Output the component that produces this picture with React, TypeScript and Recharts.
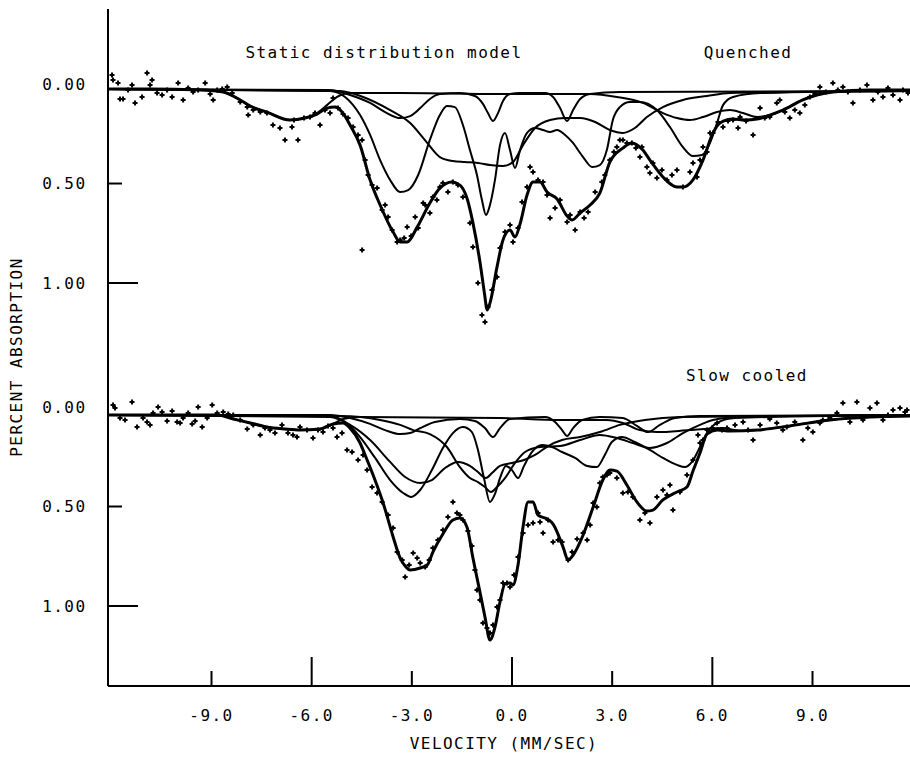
import { ComposedChart, Line, Scatter, XAxis, YAxis } from "recharts";

type Pt = [number, number];

const VELOCITY_TICKS = [-9, -6, -3, 0, 3, 6, 9];
const MAJOR_TICKS = [-6, 0, 6];
const ABS_TICKS = [0, 0.5, 1.0];
// the slow cooled spectrum is drawn below the quenched one, shifted by this much absorption
const PANEL_OFFSET = 1.623;

// ---- Quenched (upper spectrum) ----
const quenchedPoints: Pt[] = [
  [-11.98, -0.045], [-11.95, -0.02], [-11.8, -0.005], [-11.74, 0.075], [-11.65, 0.075], [-11.5, 0.03],
  [-11.38, 0.005], [-11.29, 0.095], [-11.08, 0.065], [-10.93, -0.055], [-10.84, 0.005], [-10.78, -0.02],
  [-10.63, 0.045], [-10.48, 0.055], [-10.33, 0.03], [-10.18, 0.065], [-10.0, -0.005], [-9.85, 0.08],
  [-9.7, 0.02], [-9.55, 0.04], [-9.4, 0.03], [-9.19, -0.005], [-9.04, 0.05], [-8.95, 0.08], [-8.83, 0.03],
  [-8.68, 0.025], [-8.53, 0.015], [-8.38, 0.045], [-8.14, 0.09], [-7.93, 0.116], [-7.9, 0.156], [-7.75, 0.131],
  [-7.54, 0.141], [-7.34, 0.146], [-7.16, 0.206], [-6.95, 0.221], [-6.8, 0.281], [-6.59, 0.216], [-6.53, 0.181],
  [-6.41, 0.281], [-6.23, 0.171], [-6.05, 0.166], [-5.9, 0.146], [-5.75, 0.206], [-5.6, 0.131], [-5.45, 0.146],
  [-5.36, 0.07], [-5.21, 0.121], [-5.06, 0.151], [-4.91, 0.171], [-4.76, 0.216], [-4.61, 0.256], [-4.49, 0.281],
  [-4.49, 0.834], [-4.4, 0.382], [-4.31, 0.457], [-4.19, 0.508], [-4.04, 0.523], [-3.89, 0.633], [-3.8, 0.608],
  [-3.71, 0.668], [-3.59, 0.734], [-3.44, 0.794], [-3.35, 0.784], [-3.23, 0.774], [-3.14, 0.719], [-3.02, 0.764],
  [-2.9, 0.668], [-2.81, 0.724], [-2.66, 0.598], [-2.6, 0.608], [-2.46, 0.648], [-2.37, 0.568], [-2.25, 0.583],
  [-2.16, 0.518], [-2.07, 0.497], [-1.92, 0.543], [-1.77, 0.492], [-1.62, 0.508], [-1.47, 0.568], [-1.26, 0.698],
  [-1.17, 0.819], [-1.02, 1.0], [-0.9, 1.161], [-0.81, 1.196], [-0.72, 1.121], [-0.6, 1.035], [-0.45, 0.97],
  [-0.36, 0.824], [-0.21, 0.744], [-0.06, 0.709], [0.03, 0.794], [0.18, 0.724], [0.3, 0.593], [0.45, 0.518],
  [0.54, 0.417], [0.63, 0.442], [0.78, 0.482], [0.93, 0.492], [1.05, 0.558], [1.14, 0.673], [1.29, 0.623],
  [1.44, 0.583], [1.65, 0.693], [1.74, 0.658], [1.89, 0.734], [2.04, 0.643], [2.16, 0.673], [2.28, 0.643],
  [2.49, 0.543], [2.69, 0.492], [2.78, 0.457], [2.93, 0.382], [3.05, 0.342], [3.14, 0.317], [3.23, 0.281],
  [3.32, 0.281], [3.44, 0.296], [3.59, 0.296], [3.71, 0.322], [3.83, 0.367], [3.89, 0.317], [4.04, 0.417],
  [4.13, 0.447], [4.22, 0.397], [4.34, 0.472], [4.49, 0.432], [4.64, 0.482], [4.79, 0.457], [4.94, 0.432],
  [5.12, 0.518], [5.33, 0.442], [5.42, 0.397], [5.54, 0.467], [5.63, 0.382], [5.72, 0.317], [5.84, 0.342],
  [5.93, 0.246], [6.02, 0.246], [6.17, 0.191], [6.32, 0.216], [6.47, 0.186], [6.62, 0.181], [6.77, 0.221],
  [6.83, 0.166], [7.01, 0.186], [7.22, 0.256], [7.43, 0.121], [7.57, 0.171], [7.72, 0.166], [7.93, 0.095],
  [8.02, 0.08], [8.17, 0.141], [8.32, 0.171], [8.47, 0.131], [8.62, 0.146], [8.77, 0.106], [8.92, 0.065],
  [9.07, 0.05], [9.22, 0.015], [9.4, 0.04], [9.61, -0.005], [9.76, 0.03], [9.91, 0.015], [10.06, 0.04],
  [10.21, 0.095], [10.42, 0.03], [10.63, 0.005], [10.81, 0.08], [10.96, 0.04], [11.11, 0.065], [11.26, 0.02],
  [11.41, 0.055], [11.62, 0.08], [11.71, 0.03], [11.86, 0.045],
];

const quenchedFit: Pt[] = [
  [-12.1, 0.025], [-10.84, 0.025], [-9.34, 0.03], [-8.65, 0.04], [-8.14, 0.08], [-7.84, 0.111], [-7.34, 0.141],
  [-6.65, 0.181], [-6.2, 0.171], [-5.84, 0.151], [-5.54, 0.121], [-5.3, 0.116], [-5.09, 0.141], [-4.85, 0.206],
  [-4.55, 0.307], [-4.25, 0.482], [-3.95, 0.608], [-3.56, 0.744], [-3.35, 0.794], [-3.14, 0.794], [-2.84, 0.719],
  [-2.46, 0.598], [-2.16, 0.523], [-1.8, 0.492], [-1.56, 0.508], [-1.35, 0.573], [-1.17, 0.698], [-0.96, 0.894],
  [-0.81, 1.07], [-0.75, 1.136], [-0.66, 1.101], [-0.45, 0.92], [-0.27, 0.784], [-0.06, 0.734], [0.09, 0.769],
  [0.24, 0.704], [0.45, 0.558], [0.63, 0.492], [0.84, 0.492], [1.05, 0.543], [1.35, 0.578], [1.65, 0.663],
  [1.8, 0.683], [2.04, 0.648], [2.34, 0.608], [2.63, 0.548], [2.93, 0.392], [3.32, 0.322], [3.59, 0.296],
  [3.92, 0.332], [4.13, 0.382], [4.52, 0.467], [4.94, 0.518], [5.12, 0.518], [5.42, 0.482], [5.72, 0.382],
  [6.02, 0.246], [6.23, 0.196], [6.62, 0.176], [6.98, 0.181], [7.34, 0.176], [7.72, 0.156], [8.11, 0.131],
  [8.71, 0.08], [9.13, 0.055], [9.61, 0.04], [10.72, 0.03], [11.92, 0.03],
];

const quenchedNarrow: Pt[] = [
  [-12.1, 0.025], [-5.45, 0.03], [-4.85, 0.055], [-4.25, 0.095], [-3.8, 0.141], [-3.35, 0.171], [-3.05, 0.161],
  [-2.75, 0.121], [-2.46, 0.075], [-2.16, 0.05], [-1.56, 0.045], [-1.11, 0.06], [-0.87, 0.1], [-0.72, 0.146],
  [-0.57, 0.186], [-0.42, 0.146], [-0.27, 0.085], [-0.06, 0.05], [0.24, 0.045], [0.99, 0.045], [1.23, 0.065],
  [1.44, 0.121], [1.65, 0.186], [1.83, 0.131], [2.04, 0.075], [2.34, 0.05], [3.23, 0.04], [11.92, 0.035],
];

const quenchedBroad: Pt[] = [
  [-12.1, 0.025], [-5.15, 0.035], [-4.46, 0.065], [-3.65, 0.131], [-3.05, 0.196], [-2.54, 0.296], [-2.16, 0.367],
  [-1.77, 0.387], [-1.41, 0.392], [-1.02, 0.397], [-0.66, 0.407], [-0.27, 0.412], [0.03, 0.392], [0.33, 0.307],
  [0.69, 0.221], [1.14, 0.181], [1.59, 0.171], [2.04, 0.171], [2.49, 0.191], [2.93, 0.231], [3.32, 0.246],
  [3.68, 0.221], [4.04, 0.166], [4.52, 0.116], [5.12, 0.08], [5.84, 0.06], [6.53, 0.045], [11.92, 0.035],
];

const quenchedDeep: Pt[] = [
  [-12.1, 0.025], [-5.45, 0.035], [-5.0, 0.065], [-4.55, 0.156], [-4.25, 0.256], [-3.95, 0.382], [-3.65, 0.482],
  [-3.35, 0.543], [-3.11, 0.533], [-2.81, 0.457], [-2.46, 0.281], [-2.16, 0.156], [-1.95, 0.111], [-1.71, 0.116],
  [-1.47, 0.206], [-1.26, 0.332], [-1.05, 0.457], [-0.9, 0.583], [-0.78, 0.658], [-0.66, 0.608], [-0.51, 0.482],
  [-0.36, 0.307], [-0.21, 0.246], [-0.06, 0.332], [0.09, 0.422], [0.24, 0.332], [0.45, 0.246], [0.69, 0.221],
  [0.93, 0.231], [1.14, 0.241], [1.35, 0.231], [1.59, 0.256], [1.8, 0.291], [2.13, 0.367], [2.4, 0.417],
  [2.63, 0.407], [2.84, 0.332], [3.02, 0.181], [3.23, 0.116], [3.53, 0.09], [3.83, 0.09], [4.34, 0.131],
  [4.73, 0.216], [5.12, 0.317], [5.42, 0.362], [5.69, 0.357], [5.93, 0.296], [6.14, 0.196], [6.32, 0.106],
  [6.62, 0.065], [7.43, 0.045], [11.92, 0.035],
];

const quenchedMagnetic: Pt[] = [
  [-12.1, 0.025], [-9.34, 0.03], [-8.65, 0.04], [-8.14, 0.08], [-7.84, 0.111], [-7.34, 0.141], [-6.65, 0.181],
  [-6.2, 0.171], [-5.84, 0.146], [-5.54, 0.106], [-5.24, 0.065], [-4.85, 0.045], [-3.35, 0.045], [-0.36, 0.05],
  [2.34, 0.05], [3.14, 0.065], [3.92, 0.095], [4.52, 0.146], [4.94, 0.171], [5.33, 0.181], [5.72, 0.166],
  [6.14, 0.141], [6.53, 0.131], [6.92, 0.146], [7.34, 0.166], [7.72, 0.156], [8.11, 0.131], [8.71, 0.08],
  [9.13, 0.055], [9.61, 0.04], [11.92, 0.03],
];

// ---- Slow cooled (lower spectrum) ----
const slowPoints: Pt[] = [
  [-11.95, -0.01], [-11.89, 0.005], [-11.74, 0.055], [-11.59, 0.065], [-11.38, -0.025], [-11.23, 0.101],
  [-11.05, 0.055], [-10.93, 0.075], [-10.84, 0.09], [-10.75, 0.03], [-10.6, 0.0], [-10.48, 0.025],
  [-10.33, 0.07], [-10.18, 0.02], [-10.03, 0.075], [-9.94, 0.08], [-9.85, 0.055], [-9.7, 0.03], [-9.58, 0.085],
  [-9.49, 0.07], [-9.4, 0.0], [-9.28, 0.101], [-9.13, 0.055], [-8.98, -0.01], [-8.83, 0.03], [-8.65, 0.025],
  [-8.5, 0.035], [-8.35, 0.04], [-8.14, 0.065], [-7.93, 0.111], [-7.75, 0.09], [-7.54, 0.141], [-7.4, 0.106],
  [-7.25, 0.116], [-7.1, 0.131], [-6.89, 0.09], [-6.71, 0.131], [-6.56, 0.141], [-6.44, 0.151], [-6.35, 0.101],
  [-6.14, 0.116], [-5.96, 0.156], [-5.81, 0.116], [-5.66, 0.126], [-5.51, 0.095], [-5.36, 0.106], [-5.24, 0.151],
  [-5.09, 0.131], [-4.94, 0.216], [-4.79, 0.226], [-4.61, 0.266], [-4.46, 0.241], [-4.34, 0.317], [-4.19, 0.402],
  [-4.04, 0.432], [-3.89, 0.477], [-3.71, 0.543], [-3.56, 0.608], [-3.44, 0.729], [-3.29, 0.769], [-3.2, 0.854],
  [-3.08, 0.794], [-2.96, 0.734], [-2.84, 0.759], [-2.75, 0.784], [-2.6, 0.804], [-2.48, 0.769], [-2.37, 0.709],
  [-2.22, 0.668], [-2.07, 0.618], [-1.92, 0.553], [-1.77, 0.477], [-1.65, 0.533], [-1.56, 0.543], [-1.47, 0.568],
  [-1.32, 0.623], [-1.2, 0.698], [-1.11, 0.819], [-1.05, 0.92], [-0.96, 0.97], [-0.87, 1.085], [-0.75, 1.111],
  [-0.66, 1.136], [-0.57, 1.095], [-0.45, 1.005], [-0.36, 0.97], [-0.27, 0.884], [-0.15, 0.884], [-0.06, 0.905],
  [0.06, 0.844], [0.18, 0.754], [0.33, 0.633], [0.48, 0.593], [0.63, 0.583], [0.78, 0.533], [0.84, 0.578],
  [0.93, 0.633], [1.08, 0.568], [1.23, 0.678], [1.38, 0.668], [1.5, 0.678], [1.68, 0.769], [1.8, 0.729],
  [1.95, 0.663], [2.13, 0.633], [2.25, 0.668], [2.34, 0.593], [2.43, 0.482], [2.54, 0.503], [2.63, 0.382],
  [2.72, 0.352], [2.84, 0.342], [2.93, 0.332], [3.14, 0.357], [3.32, 0.432], [3.47, 0.427], [3.62, 0.452],
  [3.83, 0.568], [3.98, 0.533], [4.13, 0.583], [4.34, 0.452], [4.52, 0.417], [4.64, 0.442], [4.73, 0.392],
  [4.82, 0.518], [5.03, 0.427], [5.24, 0.342], [5.42, 0.266], [5.57, 0.141], [5.63, 0.181], [5.72, 0.166],
  [5.84, 0.116], [5.99, 0.106], [6.14, 0.08], [6.29, 0.116], [6.44, 0.106], [6.68, 0.09], [6.92, 0.075],
  [7.07, 0.116], [7.22, 0.166], [7.43, 0.09], [7.72, 0.06], [7.93, 0.08], [8.11, 0.116], [8.23, 0.101],
  [8.47, 0.075], [8.71, 0.166], [8.86, 0.106], [9.01, 0.126], [9.22, 0.08], [9.31, 0.065], [9.52, 0.055],
  [9.73, 0.03], [9.91, -0.02], [10.12, 0.075], [10.33, -0.025], [10.51, 0.065], [10.72, 0.005], [10.93, -0.02],
  [11.11, 0.065], [11.26, 0.04], [11.41, 0.015], [11.62, 0.005], [11.77, 0.025], [11.83, 0.015],
];

const slowFit: Pt[] = [
  [-12.1, 0.04], [-8.83, 0.04], [-8.35, 0.06], [-7.84, 0.08], [-7.34, 0.101], [-6.8, 0.111], [-6.35, 0.116],
  [-5.75, 0.111], [-5.36, 0.085], [-5.06, 0.08], [-4.85, 0.106], [-4.55, 0.181], [-4.4, 0.241], [-4.16, 0.342],
  [-3.86, 0.482], [-3.56, 0.653], [-3.35, 0.759], [-3.2, 0.799], [-3.05, 0.819], [-2.75, 0.809], [-2.54, 0.794],
  [-2.37, 0.729], [-2.07, 0.638], [-1.77, 0.568], [-1.56, 0.558], [-1.35, 0.603], [-1.17, 0.759], [-0.96, 0.93],
  [-0.81, 1.055], [-0.66, 1.171], [-0.51, 1.106], [-0.36, 0.98], [-0.21, 0.889], [-0.06, 0.884], [0.03, 0.894],
  [0.18, 0.794], [0.33, 0.603], [0.48, 0.477], [0.63, 0.477], [0.78, 0.543], [1.05, 0.563], [1.23, 0.588],
  [1.53, 0.704], [1.68, 0.769], [1.83, 0.744], [2.13, 0.643], [2.43, 0.503], [2.72, 0.367], [2.93, 0.317],
  [3.14, 0.322], [3.44, 0.392], [3.74, 0.477], [4.04, 0.523], [4.22, 0.518], [4.52, 0.467], [4.94, 0.427],
  [5.24, 0.402], [5.42, 0.322], [5.63, 0.231], [5.84, 0.136], [6.14, 0.116], [6.53, 0.121], [7.34, 0.116],
  [8.32, 0.095], [9.52, 0.065], [10.72, 0.05], [11.92, 0.045],
];

const slowNarrow: Pt[] = [
  [-12.1, 0.04], [-5.45, 0.04], [-4.85, 0.055], [-4.25, 0.085], [-3.8, 0.116], [-3.35, 0.136], [-3.05, 0.131],
  [-2.75, 0.106], [-2.31, 0.075], [-1.56, 0.06], [-1.11, 0.07], [-0.81, 0.106], [-0.57, 0.151], [-0.36, 0.106],
  [-0.06, 0.06], [0.99, 0.05], [1.29, 0.075], [1.5, 0.116], [1.65, 0.146], [1.83, 0.106], [2.1, 0.065],
  [2.63, 0.05], [3.32, 0.055], [3.74, 0.095], [4.07, 0.126], [4.43, 0.09], [4.88, 0.055], [5.63, 0.045],
  [11.92, 0.04],
];

const slowDeep: Pt[] = [
  [-12.1, 0.04], [-5.45, 0.045], [-5.0, 0.075], [-4.55, 0.151], [-4.1, 0.256], [-3.65, 0.367], [-3.26, 0.432],
  [-3.02, 0.452], [-2.75, 0.417], [-2.4, 0.317], [-2.07, 0.206], [-1.77, 0.131], [-1.47, 0.101], [-1.2, 0.126],
  [-1.02, 0.216], [-0.84, 0.357], [-0.66, 0.477], [-0.51, 0.437], [-0.36, 0.357], [-0.18, 0.296], [0.0, 0.317],
  [0.18, 0.357], [0.36, 0.296], [0.6, 0.226], [0.9, 0.191], [1.2, 0.201], [1.5, 0.226], [1.89, 0.256],
  [2.25, 0.296], [2.54, 0.302], [2.78, 0.241], [2.99, 0.176], [3.29, 0.151], [3.68, 0.176], [4.13, 0.216],
  [4.52, 0.256], [4.94, 0.291], [5.18, 0.302], [5.39, 0.276], [5.63, 0.201], [5.84, 0.131], [6.14, 0.08],
  [6.68, 0.055], [11.92, 0.04],
];

const slowBroad: Pt[] = [
  [-12.1, 0.04], [-5.45, 0.05], [-4.85, 0.09], [-4.25, 0.166], [-3.65, 0.276], [-3.2, 0.352], [-2.75, 0.382],
  [-2.4, 0.367], [-2.01, 0.307], [-1.62, 0.276], [-1.26, 0.296], [-1.02, 0.327], [-0.78, 0.357], [-0.6, 0.332],
  [-0.36, 0.296], [0.0, 0.281], [0.36, 0.266], [0.69, 0.241], [1.08, 0.196], [1.5, 0.166], [2.04, 0.151],
  [2.63, 0.126], [3.23, 0.09], [3.98, 0.065], [5.03, 0.05], [11.92, 0.04],
];

const slowSecond: Pt[] = [
  [-12.1, 0.04], [-5.15, 0.045], [-3.95, 0.065], [-3.35, 0.09], [-2.96, 0.116], [-2.46, 0.136], [-1.95, 0.201],
  [-1.56, 0.302], [-1.26, 0.357], [-1.02, 0.377], [-0.81, 0.402], [-0.63, 0.427], [-0.45, 0.402], [-0.21, 0.357],
  [0.09, 0.281], [0.39, 0.226], [0.84, 0.201], [1.44, 0.196], [2.04, 0.166], [2.63, 0.141], [3.14, 0.156],
  [3.62, 0.181], [4.13, 0.206], [4.64, 0.181], [5.12, 0.131], [5.63, 0.09], [6.02, 0.065], [6.83, 0.05],
  [11.92, 0.04],
];

const slowMagnetic: Pt[] = [
  [-12.1, 0.04], [-8.83, 0.04], [-8.35, 0.06], [-7.84, 0.08], [-7.34, 0.101], [-6.8, 0.111], [-6.35, 0.116],
  [-5.75, 0.111], [-5.36, 0.085], [-5.06, 0.06], [-4.55, 0.05], [-0.36, 0.055], [1.44, 0.065], [2.34, 0.065],
  [2.84, 0.065], [3.32, 0.08], [3.83, 0.116], [4.34, 0.126], [5.33, 0.116], [6.32, 0.106], [6.83, 0.121],
  [7.34, 0.116], [8.32, 0.095], [9.52, 0.065], [10.72, 0.05], [11.92, 0.045],
];

const FONT = '"DejaVu Sans Mono", monospace';
const INK = "#000";

const rows = (pts: Pt[], offset = 0) => pts.map(([v, a]) => ({ v, y: a + offset }));

const yTicks = [...ABS_TICKS, ...ABS_TICKS.map((t) => t + PANEL_OFFSET)];

function AbsTick(props: any) {
  const { x, y, payload } = props;
  let a = payload.value;
  if (a > 1.3) a -= PANEL_OFFSET;
  const len = Math.abs(a - 1) < 0.01 ? 30 : Math.abs(a - 0.5) < 0.01 ? 14 : 0;
  return (
    <g>
      {len > 0 && <line x1={x} x2={x + len} y1={y} y2={y} stroke={INK} strokeWidth={2} />}
      <text x={x - 21.5} y={y} dy={5.5} textAnchor="end" fontFamily={FONT} fontSize={16} letterSpacing={1.45} fill={INK}>
        {a.toFixed(2)}
      </text>
    </g>
  );
}

function VelTick(props: any) {
  const { x, y, payload } = props;
  const len = MAJOR_TICKS.includes(payload.value) ? 29 : 15;
  return (
    <g>
      <line x1={x} x2={x} y1={y} y2={y - len} stroke={INK} strokeWidth={2} />
      <text x={x} y={y + 35} textAnchor="middle" fontFamily={FONT} fontSize={16} letterSpacing={1.45} fill={INK}>
        {payload.value.toFixed(1)}
      </text>
    </g>
  );
}

const cross = (props: any) => {
  const { cx, cy } = props;
  if (cx == null || cy == null) return <g />;
  return <path d={`M${cx - 2.5},${cy}H${cx + 2.5}M${cx},${cy - 2.5}V${cy + 2.5}`} stroke={INK} strokeWidth={2} />;
};

const components = [
  rows(quenchedNarrow), rows(quenchedBroad), rows(quenchedDeep), rows(quenchedMagnetic),
  rows(slowNarrow, PANEL_OFFSET), rows(slowDeep, PANEL_OFFSET), rows(slowBroad, PANEL_OFFSET),
  rows(slowSecond, PANEL_OFFSET), rows(slowMagnetic, PANEL_OFFSET),
];
const fits = [rows(quenchedFit), rows(slowFit, PANEL_OFFSET)];
const points = [rows(quenchedPoints), rows(slowPoints, PANEL_OFFSET)];

export default function App() {
  return (
    <div style={{ position: "fixed", left: 0, top: 0, width: 910, height: 757, background: "#fff" }}>
      <ComposedChart width={910} height={757} margin={{ top: 9, right: 0, bottom: 0, left: 0 }}>
        <XAxis
          dataKey="v"
          type="number"
          domain={[-12.1, 11.92]}
          ticks={VELOCITY_TICKS}
          allowDataOverflow
          height={71}
          tickSize={0}
          tickMargin={0}
          tickLine={false}
          axisLine={{ stroke: INK, strokeWidth: 2 }}
          tick={<VelTick />}
          interval={0}
        />
        <XAxis
          xAxisId="top"
          orientation="top"
          dataKey="v"
          type="number"
          domain={[-12.1, 11.92]}
          height={0}
          tick={false}
          tickLine={false}
          axisLine={{ stroke: INK, strokeWidth: 2 }}
        />
        <YAxis
          type="number"
          domain={[-0.377, 3.025]}
          reversed
          allowDataOverflow
          ticks={yTicks}
          width={108}
          tickSize={0}
          tickMargin={0}
          tickLine={false}
          axisLine={{ stroke: INK, strokeWidth: 2 }}
          tick={<AbsTick />}
          interval={0}
        />
        {components.map((d, i) => (
          <Line
            key={`c${i}`}
            data={d}
            dataKey="y"
            type="monotone"
            stroke={INK}
            strokeWidth={2}
            dot={false}
            activeDot={false}
            isAnimationActive={false}
          />
        ))}
        {fits.map((d, i) => (
          <Line
            key={`f${i}`}
            data={d}
            dataKey="y"
            type="monotone"
            stroke={INK}
            strokeWidth={3}
            dot={false}
            activeDot={false}
            isAnimationActive={false}
          />
        ))}
        {points.map((d, i) => (
          <Scatter key={`p${i}`} data={d} dataKey="y" shape={cross} isAnimationActive={false} />
        ))}
      </ComposedChart>
      <svg width={910} height={757} style={{ position: "absolute", left: 0, top: 0, pointerEvents: "none" }}>
        <g fontFamily={FONT} fontSize={16} letterSpacing={1.45} fill={INK}>
          <text x={384} y={58} textAnchor="middle">Static distribution model</text>
          <text x={748} y={58} textAnchor="middle">Quenched</text>
          <text x={747} y={381} textAnchor="middle">Slow cooled</text>
          <text x={504} y={749} textAnchor="middle">VELOCITY (MM/SEC)</text>
          <text x={16} y={357} dy={5.5} textAnchor="middle" transform="rotate(-90 16 357)">
            PERCENT ABSORPTION
          </text>
        </g>
      </svg>
    </div>
  );
}
